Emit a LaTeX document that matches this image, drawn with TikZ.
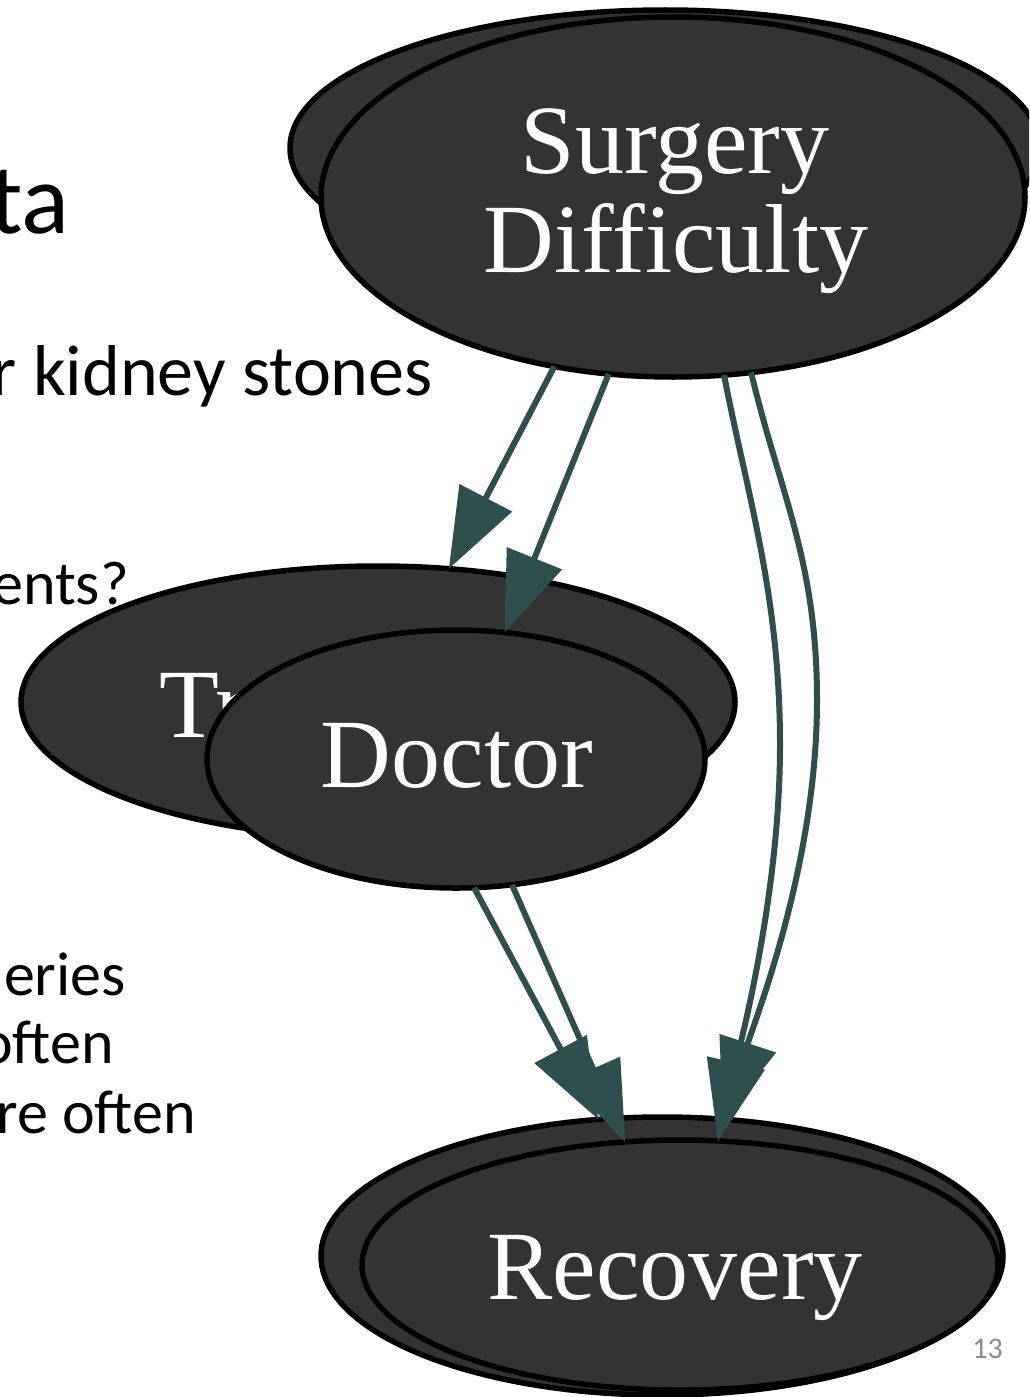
\documentclass[tikz,border=0pt]{standalone}
\usepackage{fontspec}
\setmainfont{Carlito}
\newfontfamily\graphfont{Liberation Serif}
\usetikzlibrary{arrows.meta,shapes.geometric}
\definecolor{nodefill}{HTML}{333333}
\definecolor{edgecol}{HTML}{2F4F4F}
\definecolor{pagenum}{HTML}{8C8C8C}
\tikzset{
  gnode/.style={ellipse, draw=black, fill=nodefill, line width=5.5pt,
                inner sep=0pt, outer sep=0pt},
  glabel/.style={text=white, inner sep=0pt,
                 font=\graphfont\fontsize{98}{98}\selectfont},
  slidetitle/.style={inner sep=0pt, font=\fontsize{100}{100}\selectfont},
  bulletone/.style={inner sep=0pt, font=\fontsize{72}{72}\selectfont},
  bullettwo/.style={inner sep=0pt, font=\fontsize{62}{62}\selectfont},
  gedge/.style={draw=edgecol, line width=6pt,
                -{Triangle[length=80pt,width=58pt]}}
}
\begin{document}
\begin{tikzpicture}[x=1pt,y=-1pt]
\useasboundingbox (0,0) rectangle (1029,1397);
\clip (0,0) rectangle (1029,1397);
\fill[white] (0,0) rectangle (1029,1397);

% slide text behind the graph
\node[slidetitle, anchor=base east] (title) at (70,233) {ta};
\node[bulletone, anchor=base east] (b1) at (433,395) {r kidney stones};
\node[bullettwo, anchor=base east] (b2) at (129,604) {ents?};
\node[bullettwo, anchor=base east] (b3) at (126,995) {eries};
\node[bullettwo, anchor=base east] (b4) at (114,1063) {often};
\node[bullettwo, anchor=base east] (b5) at (196,1133) {re often};
\node[inner sep=0pt, text=pagenum, font=\fontsize{30}{30}\selectfont,
      anchor=base east] (pg) at (1003,1358) {13};

% nodes
\node[gnode, minimum width=750pt, minimum height=276pt] (sdBack) at (665,148) {};
\node[gnode, minimum width=704pt, minimum height=360pt] (sdFront) at (673,197) {};
\node[glabel, anchor=base] (sdText1) at (675,173) {Surgery};
\node[glabel, anchor=base] (sdText2) at (676,272) {Difficulty};

\node[gnode, minimum width=714pt, minimum height=272pt] (trt) at (378,702) {};
\node[glabel, anchor=base west] (trtText) at (159,737) {Treatment};
\node[gnode, minimum width=498pt, minimum height=258pt] (doc) at (456,759) {};
\node[glabel, anchor=base] (docText) at (457,787) {Doctor};

\node[gnode, minimum width=682pt, minimum height=278pt] (recBack) at (662,1256) {};
\node[gnode, minimum width=636pt, minimum height=250pt] (recFront) at (680,1265) {};
\node[glabel, anchor=base] (recText) at (675,1299) {Recovery};

% edges
\draw[gedge] (sdFront.-125.4) -- (trt.62.2);
\draw[gedge] (sdFront.-110.7) -- (doc.69.1);
\draw[gedge] (doc.-82.9) -- (recBack.115.5);
\draw[gedge] (doc.-66) -- (recFront.114.1);
\draw[gedge] (sdFront.-74.2) .. controls (747,494) and (780,595) .. (780,745)
  .. controls (780,895) and (740,1045) .. (recFront.73.7);
\draw[gedge] (sdFront.-66.5) .. controls (780,494) and (817,560) .. (817,700)
  .. controls (817,860) and (759,1009) .. (recBack.66.7);
\end{tikzpicture}
\end{document}
